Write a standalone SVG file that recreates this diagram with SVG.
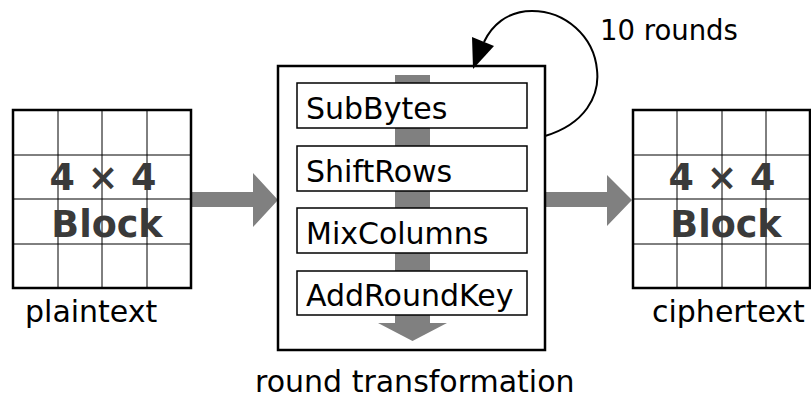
<svg xmlns="http://www.w3.org/2000/svg" width="811" height="398" viewBox="0 0 811 398">
<style>
.t{font-family:"DejaVu Sans",sans-serif;font-size:30px;fill:#000}
.b{font-family:"DejaVu Sans",sans-serif;font-weight:bold;font-size:36.5px;fill:#3a3a3a;text-anchor:middle}
.outer{fill:none;stroke:#000;stroke-width:2.5}
.grid{stroke:#000;stroke-width:1}
.step{fill:#fff;stroke:#000;stroke-width:1.5}
.fat{fill:#808080}
</style>
<rect width="811" height="398" fill="#fff"/>
<g id="connectors">
<path class="fat" d="M191,192 H253 V173 L278,200 L253,227 V207 H191 Z"/>
<path class="fat" d="M545,192 H607 V175 L632,200 L607,226 V207 H545 Z"/>
<path d="M545,136 C585,124 600,96 597,70 C594,36 565,11 532,11 C506,11 491,27 484,42" fill="none" stroke="#000" stroke-width="2"/>
<polygon points="472,37 494,46 473,69" fill="#000"/>
</g>
<g id="plaintext">
<g class="grid">
<line x1="58" y1="110" x2="58" y2="288"/><line x1="102" y1="110" x2="102" y2="288"/><line x1="147" y1="110" x2="147" y2="288"/>
<line x1="13" y1="155" x2="191" y2="155"/><line x1="13" y1="199" x2="191" y2="199"/><line x1="13" y1="244" x2="191" y2="244"/>
</g>
<rect class="outer" x="13" y="110" width="178" height="178"/>
<text class="b" x="103" y="190">4 × 4</text>
<text class="b" x="107" y="237">Block</text>
<text class="t" x="25" y="322">plaintext</text>
</g>
<g id="round">
<rect class="outer" x="278" y="66" width="267" height="284"/>
<path class="fat" d="M395,75 H430 V323 H447 L412.5,341 L378,323 H395 Z" fill="#7d7d7d"/>
<g id="subbytes"><rect class="step" x="297" y="83" width="230" height="45"/><text class="t" x="306" y="119">SubBytes</text></g>
<g id="shiftrows"><rect class="step" x="297" y="146" width="230" height="45"/><text class="t" x="306" y="182">ShiftRows</text></g>
<g id="mixcolumns"><rect class="step" x="297" y="208" width="230" height="45"/><text class="t" x="306" y="244">MixColumns</text></g>
<g id="addroundkey"><rect class="step" x="297" y="271" width="230" height="44"/><text class="t" x="306" y="306">AddRoundKey</text></g>
<text class="t" x="255" y="392">round transformation</text>
<text class="t" x="600" y="40" style="font-size:27.5px">10 rounds</text>
</g>
<g id="ciphertext">
<g class="grid">
<line x1="677" y1="110" x2="677" y2="288"/><line x1="722" y1="110" x2="722" y2="288"/><line x1="766" y1="110" x2="766" y2="288"/>
<line x1="633" y1="155" x2="810" y2="155"/><line x1="633" y1="199" x2="810" y2="199"/><line x1="633" y1="244" x2="810" y2="244"/>
</g>
<rect class="outer" x="633" y="110" width="177" height="178"/>
<text class="b" x="722" y="190">4 × 4</text>
<text class="b" x="726" y="237">Block</text>
<text class="t" x="652" y="322">ciphertext</text>
</g>
</svg>
